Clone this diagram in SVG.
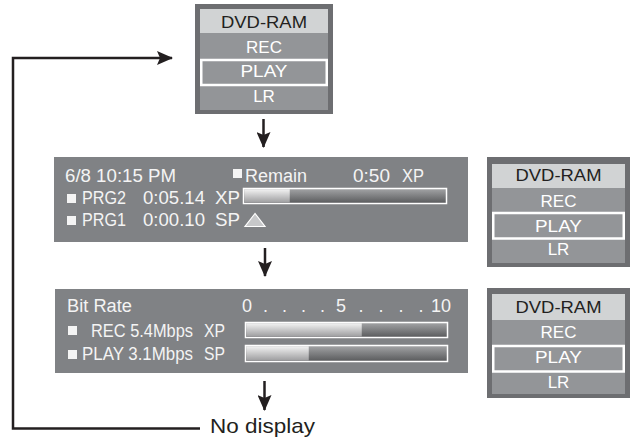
<svg xmlns="http://www.w3.org/2000/svg" width="631" height="439" viewBox="0 0 631 439">
<style>
text{font-family:"Liberation Sans",Arial,Helvetica,sans-serif}
.frame{fill:#6d6e71}
.hdr{fill:#d1d3d4}
.rows{fill:#939598}
.sel{fill:none;stroke:#ffffff;stroke-width:2.5}
.mh{font-size:17px;fill:#231f20;text-anchor:middle}
.mt{font-size:17px;fill:#ffffff;text-anchor:middle}
.panel{fill:#808285}
.pt{font-size:18px;fill:#f4f4f4}
.sq{fill:#f4f4f4}
.bar{stroke:#ffffff;stroke-width:1.5}
.ln{fill:none;stroke:#231f20;stroke-width:2.5}
</style>
<defs>
<linearGradient id="gLight" x1="0" y1="0" x2="0" y2="1">
<stop offset="0" stop-color="#f2f2f2"/><stop offset="1" stop-color="#9c9c9e"/>
</linearGradient>
<linearGradient id="gDark" x1="0" y1="0" x2="0" y2="1">
<stop offset="0" stop-color="#a4a5a7"/><stop offset="1" stop-color="#58595b"/>
</linearGradient>
<marker id="ah" markerUnits="userSpaceOnUse" markerWidth="18" markerHeight="14" refX="15" refY="7" orient="auto">
<path d="M0,0 L16,7 L0,14 L3,7 z" fill="#231f20"/>
</marker>
</defs>

<g id="connectors">
<path class="ln" d="M200,428.5 H13 V58 H172" marker-end="url(#ah)"/>
<path class="ln" d="M263.5,119 V147" marker-end="url(#ah)"/>
<path class="ln" d="M265,248 V276" marker-end="url(#ah)"/>
<path class="ln" d="M264.5,381 V410" marker-end="url(#ah)"/>
</g>

<g id="menu-top">
<rect class="frame" x="195" y="4" width="138" height="110"/>
<rect class="hdr" x="200" y="9" width="128" height="24"/>
<rect class="rows" x="200" y="33" width="128" height="77"/>
<rect class="sel" x="201.25" y="60" width="125.5" height="25"/>
<text class="mh" x="264" y="28" textLength="86" lengthAdjust="spacingAndGlyphs">DVD-RAM</text>
<text class="mt" x="264" y="53">REC</text>
<text class="mt" x="264" y="77" textLength="47" lengthAdjust="spacingAndGlyphs">PLAY</text>
<text class="mt" x="264" y="102">LR</text>
</g>

<g id="panel-remain">
<rect class="panel" x="54" y="157" width="414" height="85"/>
<text class="pt" x="65" y="182" textLength="111" lengthAdjust="spacingAndGlyphs">6/8 10:15 PM</text>
<rect class="sq" x="233" y="169" width="9" height="9"/>
<text class="pt" x="245" y="182" textLength="62" lengthAdjust="spacingAndGlyphs">Remain</text>
<text class="pt" x="353" y="182" textLength="37" lengthAdjust="spacingAndGlyphs">0:50</text>
<text class="pt" x="402" y="182" textLength="22" lengthAdjust="spacingAndGlyphs">XP</text>
<rect class="sq" x="67" y="194" width="9" height="9"/>
<text class="pt" x="82" y="204" textLength="44" lengthAdjust="spacingAndGlyphs">PRG2</text>
<text class="pt" x="143" y="204" textLength="62" lengthAdjust="spacingAndGlyphs">0:05.14</text>
<text class="pt" x="215" y="204" textLength="25" lengthAdjust="spacingAndGlyphs">XP</text>
<rect class="bar" x="243.5" y="188.5" width="203" height="15" fill="url(#gDark)"/>
<rect x="244.25" y="189.25" width="45.5" height="13.5" fill="url(#gLight)"/>
<rect class="sq" x="67" y="216" width="9" height="9"/>
<text class="pt" x="82" y="226" textLength="44" lengthAdjust="spacingAndGlyphs">PRG1</text>
<text class="pt" x="143" y="226" textLength="62" lengthAdjust="spacingAndGlyphs">0:00.10</text>
<text class="pt" x="215" y="226" textLength="25" lengthAdjust="spacingAndGlyphs">SP</text>
<polygon points="255,213.5 245,226.5 265,226.5" fill="#c7c8ca" stroke="#ffffff" stroke-width="1.2"/>
</g>

<g id="menu-right-1">
<rect class="frame" x="487" y="157" width="143" height="110"/>
<rect class="hdr" x="492" y="164" width="133" height="24"/>
<rect class="rows" x="492" y="188" width="133" height="75"/>
<rect class="sel" x="493.25" y="213" width="130.5" height="25.5"/>
<text class="mh" x="558.5" y="181" textLength="86" lengthAdjust="spacingAndGlyphs">DVD-RAM</text>
<text class="mt" x="558.5" y="207">REC</text>
<text class="mt" x="558.5" y="232" textLength="47" lengthAdjust="spacingAndGlyphs">PLAY</text>
<text class="mt" x="558.5" y="255">LR</text>
</g>

<g id="panel-bitrate">
<rect class="panel" x="55" y="289" width="413" height="84"/>
<text class="pt" x="67" y="312" textLength="65" lengthAdjust="spacingAndGlyphs">Bit Rate</text>
<text class="pt" y="312"><tspan x="242">0</tspan><tspan x="263">.</tspan><tspan x="282">.</tspan><tspan x="301">.</tspan><tspan x="320">.</tspan><tspan x="336">5</tspan><tspan x="358.5">.</tspan><tspan x="378.5">.</tspan><tspan x="398.5">.</tspan><tspan x="418.5">.</tspan><tspan x="431">10</tspan></text>
<rect class="sq" x="68" y="326" width="9" height="9"/>
<text class="pt" x="91" y="337" textLength="102" lengthAdjust="spacingAndGlyphs">REC 5.4Mbps</text>
<text class="pt" x="204" y="337" textLength="21" lengthAdjust="spacingAndGlyphs">XP</text>
<rect class="bar" x="245.5" y="322.5" width="202" height="15" fill="url(#gDark)"/>
<rect x="246.25" y="323.25" width="115.5" height="13.5" fill="url(#gLight)"/>
<rect class="sq" x="68" y="350" width="9" height="9"/>
<text class="pt" x="82" y="360" textLength="111" lengthAdjust="spacingAndGlyphs">PLAY 3.1Mbps</text>
<text class="pt" x="204" y="360" textLength="21" lengthAdjust="spacingAndGlyphs">SP</text>
<rect class="bar" x="245.5" y="345.5" width="202" height="16" fill="url(#gDark)"/>
<rect x="246.25" y="346.25" width="62.5" height="14.5" fill="url(#gLight)"/>
</g>

<g id="menu-right-2">
<rect class="frame" x="487" y="288" width="143" height="110"/>
<rect class="hdr" x="492" y="294" width="133" height="26"/>
<rect class="rows" x="492" y="320" width="133" height="74"/>
<rect class="sel" x="493.25" y="346" width="130.5" height="25.5"/>
<text class="mh" x="558.5" y="313" textLength="86" lengthAdjust="spacingAndGlyphs">DVD-RAM</text>
<text class="mt" x="558.5" y="338">REC</text>
<text class="mt" x="558.5" y="363" textLength="47" lengthAdjust="spacingAndGlyphs">PLAY</text>
<text class="mt" x="558.5" y="388">LR</text>
</g>

<g id="no-display">
<text x="210" y="433" font-size="21" fill="#231f20" textLength="105" lengthAdjust="spacingAndGlyphs">No display</text>
</g>
</svg>
